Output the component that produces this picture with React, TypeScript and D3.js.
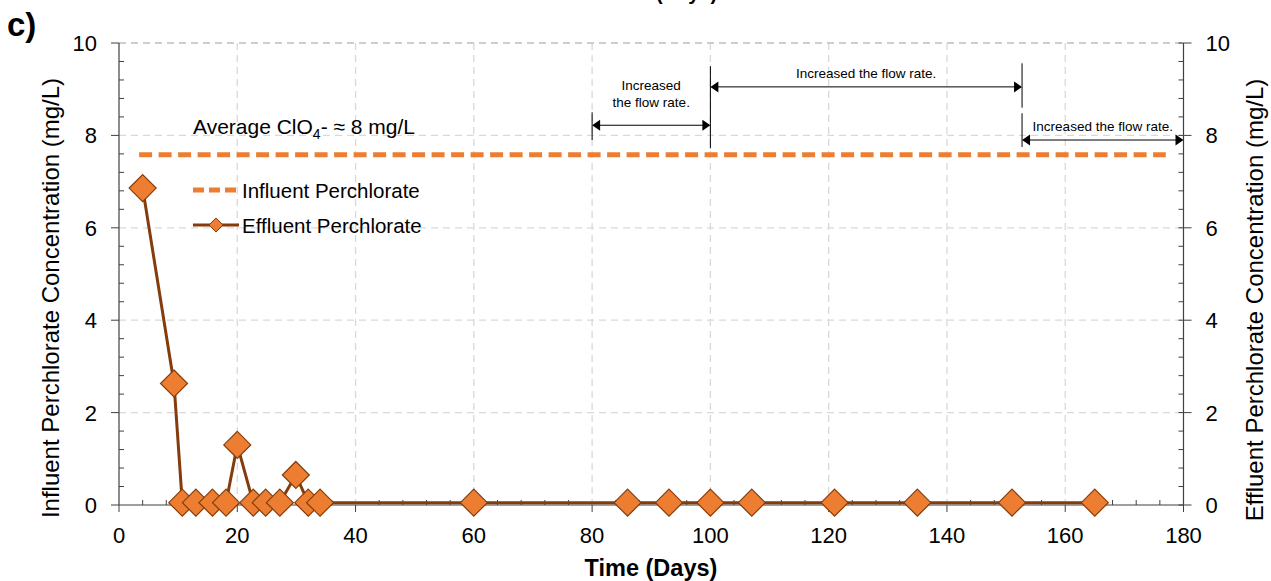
import React from "react";
import * as d3 from "d3";

const effluentDays = [4, 9.3, 10.7, 13, 15.8, 18.1, 20, 22.7, 24.8, 27.2, 29.9, 32, 34, 60, 86, 93, 100, 107, 121, 135, 151, 165];
const effluentValues = [6.86, 2.63, 0.05, 0.05, 0.05, 0.05, 1.3, 0.05, 0.05, 0.05, 0.65, 0.05, 0.05, 0.05, 0.05, 0.05, 0.05, 0.05, 0.05, 0.05, 0.05, 0.05];
const influentDays = [3.4, 177];
const influentValues = [7.58, 7.58];
const xTicks = [0, 20, 40, 60, 80, 100, 120, 140, 160, 180];
const yTicks = [0, 2, 4, 6, 8, 10];
const annotations = [
  { from: 80, to: 100, y: 8.22, lines: ["Increased", "the flow rate."], textY: [9.08, 8.72], vl: [[80, 8.5, 7.9], [100, 9.5, 7.72]] },
  { from: 100, to: 152.7, y: 9.05, lines: ["Increased the flow rate."], textY: [9.35], vl: [[152.7, 9.56, 8.6]] },
  { from: 152.7, to: 180, y: 7.9, lines: ["Increased the flow rate."], textY: [8.2], vl: [[152.7, 8.48, 7.75]] },
];

const W = 1271, H = 581;
const x = d3.scaleLinear().domain([0, 180]).range([119, 1183.5]);
const y = d3.scaleLinear().domain([0, 10]).range([505, 43]);

const ORANGE = "#ED7D31";
const BROWN = "#843C0C";
const FONT = "Arial, 'Liberation Sans', sans-serif";
const NARROW = "'Liberation Sans Narrow', 'Arial Narrow', 'Liberation Sans', sans-serif";

function diamond(cx: number, cy: number, r: number) {
  return `M${cx},${cy - r}L${cx + r},${cy}L${cx},${cy + r}L${cx - r},${cy}Z`;
}

export default function App() {
  const xMinor = d3.range(0, 181, 4).filter((d) => d % 20 !== 0);
  const yMinor = d3.range(0, 10.01, 0.4).map((d) => +d.toFixed(2)).filter((d) => Math.abs(d / 2 - Math.round(d / 2)) > 0.01);
  const effPts = effluentDays.map((d, i) => [x(d), y(effluentValues[i])] as [number, number]);
  const infPts = influentDays.map((d, i) => [x(d), y(influentValues[i])] as [number, number]);
  const line = d3.line();
  const x0 = x(0), x1 = x(180), y0 = y(0), y1 = y(10);

  return (
    <svg width={W} height={H} style={{ position: "absolute", left: 0, top: 0, background: "#fff" }} fontFamily={FONT}>
      {/* grid */}
      {xTicks.filter((t) => t > 0 && t < 180).map((t) => (
        <line key={"gx" + t} x1={x(t)} x2={x(t)} y1={y1} y2={y0} stroke="#D9D9D9" strokeWidth={1.3} strokeDasharray="7,5" />
      ))}
      {yTicks.filter((t) => t > 0).map((t) => (
        <line key={"gy" + t} x1={x0} x2={x1} y1={y(t)} y2={y(t)} stroke={t === 10 ? "#BFBFBF" : "#D9D9D9"} strokeWidth={1.3} strokeDasharray="7,5" />
      ))}
      {/* axes */}
      <line x1={x0} x2={x0} y1={y1} y2={y0} stroke="#404040" strokeWidth={1.2} />
      <line x1={x1} x2={x1} y1={y1} y2={y0} stroke="#404040" strokeWidth={1.2} />
      <line x1={x0} x2={x1} y1={y0} y2={y0} stroke="#404040" strokeWidth={1.2} />
      {yTicks.map((t) => (
        <g key={"yt" + t}>
          <line x1={x0 - 8} x2={x0} y1={y(t)} y2={y(t)} stroke="#404040" />
          <line x1={x1 - 5} x2={x1 + 8} y1={y(t)} y2={y(t)} stroke="#404040" />
          <text x={x0 - 22} y={y(t)} dy="0.36em" textAnchor="end" fontSize={22} fill="#000">{t}</text>
          <text x={x1 + 22} y={y(t)} dy="0.36em" textAnchor="start" fontSize={22} fill="#000">{t}</text>
        </g>
      ))}
      {yMinor.map((t) => (
        <g key={"ym" + t}>
          <line x1={x0} x2={x0 + 5} y1={y(t)} y2={y(t)} stroke="#404040" />
          <line x1={x1 - 5} x2={x1} y1={y(t)} y2={y(t)} stroke="#404040" />
        </g>
      ))}
      {xTicks.map((t) => (
        <g key={"xt" + t}>
          <line x1={x(t)} x2={x(t)} y1={y0} y2={y0 + 7} stroke="#404040" />
          <text x={x(t)} y={y0 + 38} textAnchor="middle" fontSize={22} fill="#000">{t}</text>
        </g>
      ))}
      {xMinor.map((t) => (
        <line key={"xm" + t} x1={x(t)} x2={x(t)} y1={y0} y2={y0 - 5} stroke="#404040" />
      ))}
      {/* labels */}
      <text x={651} y={576} textAnchor="middle" fontSize={23.5} fontWeight="bold">Time (Days)</text>
      <text transform={`translate(59,298) rotate(-90)`} textAnchor="middle" fontSize={24}>Influent Perchlorate Concentration (mg/L)</text>
      <text transform={`translate(1263,300) rotate(-90)`} textAnchor="middle" fontSize={24}>Effluent Perchlorate Concentration (mg/L)</text>
      <text x={7} y={36} fontSize={33} fontWeight="bold">c)</text>
      <text x={656} y={0} fontSize={20} fontWeight="bold">(Days)</text>
      {/* influent */}
      <path d={line(infPts) || ""} fill="none" stroke={ORANGE} strokeWidth={5} strokeDasharray="13,6.5" />
      {/* effluent */}
      <path d={line(effPts) || ""} fill="none" stroke={BROWN} strokeWidth={3} />
      {effPts.map(([px, py], i) => (
        <path key={"d" + i} d={diamond(px, py, 13.5)} fill={ORANGE} stroke={BROWN} strokeWidth={1.2} />
      ))}
      {/* average text */}
      <text x={193} y={134} fontSize={21}>
        Average ClO<tspan fontSize={14} dy={5}>4</tspan><tspan dy={-5}>- ≈ 8 mg/L</tspan>
      </text>
      {/* legend */}
      <line x1={193} x2={239} y1={190} y2={190} stroke={ORANGE} strokeWidth={5} strokeDasharray="11,5" />
      <text x={242} y={197.5} fontSize={20.5}>Influent Perchlorate</text>
      <line x1={193} x2={239} y1={225} y2={225} stroke={BROWN} strokeWidth={3} />
      <path d={diamond(216, 225, 7)} fill={ORANGE} stroke={BROWN} strokeWidth={1} />
      <text x={242} y={232.5} fontSize={20.5}>Effluent Perchlorate</text>
      {/* annotations */}
      {annotations.map((a, i) => {
        const ax = x(a.from), bx = x(a.to), ay = y(a.y);
        return (
          <g key={"a" + i}>
            {a.vl.map((v, j) => (
              <line key={j} x1={x(v[0])} x2={x(v[0])} y1={y(v[1])} y2={y(v[2])} stroke="#000" strokeWidth={1} />
            ))}
            <line x1={ax + 6} x2={bx - 6} y1={ay} y2={ay} stroke="#000" strokeWidth={1} />
            <path d={`M${ax},${ay}L${ax + 8},${ay - 5.5}L${ax + 8},${ay + 5.5}Z`} fill="#000" />
            <path d={`M${bx},${ay}L${bx - 8},${ay - 5.5}L${bx - 8},${ay + 5.5}Z`} fill="#000" />
            {a.lines.map((l, j) => (
              <text key={"t" + j} x={(ax + bx) / 2} y={y(a.textY[j])} dy="0.35em" textAnchor="middle" fontSize={13.5} fontFamily={NARROW} fill="#000">{l}</text>
            ))}
          </g>
        );
      })}
    </svg>
  );
}
